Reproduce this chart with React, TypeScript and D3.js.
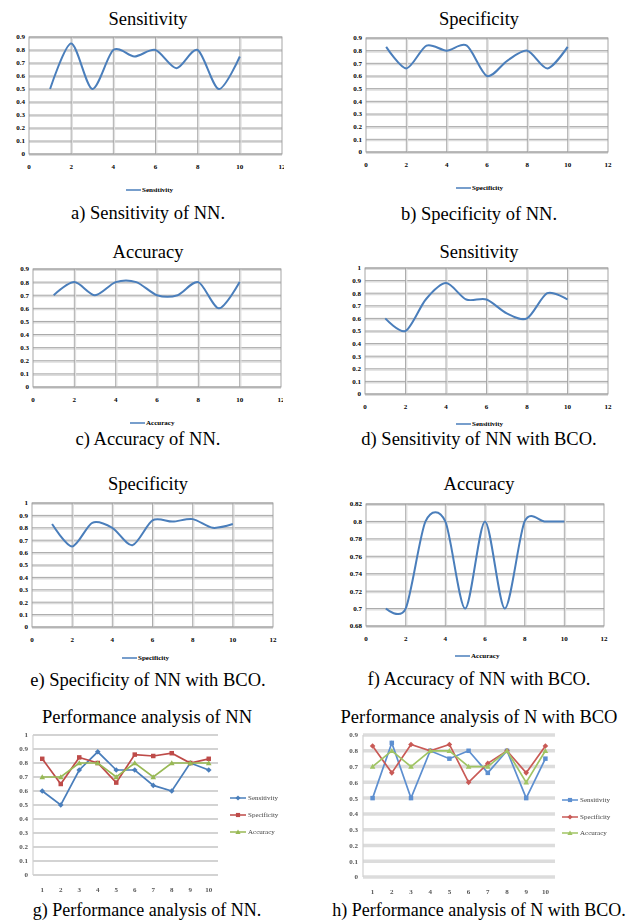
import * as d3 from "d3";

// run index 1..10
const runs = [1, 2, 3, 4, 5, 6, 7, 8, 9, 10];
const runLabels = ["1", "2", "3", "4", "5", "6", "7", "8", "9", "10"];

// NN
const nnSensitivity = [0.5, 0.85, 0.5, 0.8, 0.75, 0.8, 0.66, 0.8, 0.5, 0.75];
const nnSpecificity = [0.83, 0.66, 0.84, 0.8, 0.84, 0.6, 0.72, 0.8, 0.66, 0.83];
const nnAccuracy = [0.7, 0.8, 0.7, 0.8, 0.8, 0.7, 0.7, 0.8, 0.6, 0.8];

// NN with BCO
const bcoSensitivity = [0.6, 0.5, 0.75, 0.88, 0.75, 0.75, 0.64, 0.6, 0.8, 0.75];
const bcoSpecificity = [0.83, 0.65, 0.84, 0.8, 0.66, 0.86, 0.85, 0.87, 0.8, 0.83];
const bcoAccuracy = [0.7, 0.7, 0.8, 0.8, 0.7, 0.8, 0.7, 0.8, 0.8, 0.8];

const xTicks = [0, 2, 4, 6, 8, 10, 12];
const ticks09 = [0, 0.1, 0.2, 0.3, 0.4, 0.5, 0.6, 0.7, 0.8, 0.9];
const ticks10 = [0, 0.1, 0.2, 0.3, 0.4, 0.5, 0.6, 0.7, 0.8, 0.9, 1];
const ticksAcc = [0.68, 0.7, 0.72, 0.74, 0.76, 0.78, 0.8, 0.82];

const BLUE = "#4a7ebb";
const RED = "#be4b48";
const GREEN = "#98b954";
const SERIF = "Liberation Serif, Tinos, Times New Roman, DejaVu Serif, serif";

const fmt = (v: number) => String(+v.toFixed(2));

type Box = { x0: number; x1: number; y0: number; y1: number };

function T(props: any) {
  const { size, bold, children, ...rest } = props;
  return (
    <text {...rest} style={{ fontFamily: SERIF, fontSize: size, fontWeight: bold ? "bold" : "normal" }}>
      {children}
    </text>
  );
}

function SmoothPanel(props: {
  id: string;
  box: Box;
  title: string;
  titleX: number;
  titleY: number;
  yTicks: number[];
  values: number[];
  name: string;
  legendX: number;
  legendY: number;
  caption: string;
  captionY: number;
  clipX?: number;
}) {
  const { box, yTicks, values } = props;
  const x = d3.scaleLinear().domain([0, 12]).range([box.x0, box.x1]);
  const y = d3
    .scaleLinear()
    .domain([yTicks[0], yTicks[yTicks.length - 1]])
    .range([box.y1, box.y0]);
  const line = d3
    .line<number>()
    .x((_, i) => x(runs[i]))
    .y((d) => y(d))
    .curve(d3.curveCardinal.tension(0.15));
  return (
    <g>
      <T x={props.titleX} y={props.titleY} dy="0.35em" textAnchor="middle" size={18.5}>
        {props.title}
      </T>
      {yTicks.map((t) => (
        <g key={"h" + t}>
          <line x1={box.x0} x2={box.x1} y1={y(t) + 1.3} y2={y(t) + 1.3} stroke="#dcdcdc" strokeWidth={1.4} />
          <line x1={box.x0} x2={box.x1} y1={y(t)} y2={y(t)} stroke="#9c9c9c" strokeWidth={0.9} />
          <T x={box.x0 - 4} y={y(t)} dy="0.35em" textAnchor="end" bold size={7}>
            {fmt(t)}
          </T>
        </g>
      ))}
      {xTicks.slice(1, -1).map((t) => (
        <g key={"v" + t}>
          <line x1={x(t) + 1.2} x2={x(t) + 1.2} y1={box.y0} y2={box.y1} stroke="#e0e0e0" strokeWidth={1.2} />
          <line x1={x(t)} x2={x(t)} y1={box.y0} y2={box.y1} stroke="#a4a4a4" strokeWidth={0.9} />
        </g>
      ))}
      <rect x={box.x0} y={box.y0} width={box.x1 - box.x0} height={box.y1 - box.y0} fill="none" stroke="#9c9c9c" strokeWidth={0.9} />
      {props.clipX !== undefined && (
        <clipPath id={props.id + "-clip"}>
          <rect x={0} y={box.y1} width={props.clipX} height={30} />
        </clipPath>
      )}
      <g clipPath={props.clipX !== undefined ? `url(#${props.id}-clip)` : undefined}>
        {xTicks.map((t) => (
          <T key={"x" + t} x={x(t)} y={box.y1 + 13} dy="0.35em" textAnchor="middle" bold size={7}>
            {t}
          </T>
        ))}
      </g>
      <path d={line(values) || ""} fill="none" stroke={BLUE} strokeWidth={2} />
      <line x1={props.legendX} x2={props.legendX + 15} y1={props.legendY} y2={props.legendY} stroke={BLUE} strokeWidth={1.5} />
      <T x={props.legendX + 16} y={props.legendY} dy="0.35em" bold size={7}>
        {props.name}
      </T>
      <T x={props.titleX} y={props.captionY} dy="0.35em" textAnchor="middle" size={18.5}>
        {props.caption}
      </T>
    </g>
  );
}

function Marker(props: { kind: string; cx: number; cy: number; color: string; s: number }) {
  const { cx, cy, s, color } = props;
  if (props.kind === "diamond")
    return <path d={`M${cx},${cy - s}L${cx + s},${cy}L${cx},${cy + s}L${cx - s},${cy}Z`} fill={color} />;
  if (props.kind === "square") return <rect x={cx - s * 0.8} y={cy - s * 0.8} width={s * 1.6} height={s * 1.6} fill={color} />;
  return <path d={`M${cx},${cy - s}L${cx + s},${cy + s * 0.8}L${cx - s},${cy + s * 0.8}Z`} fill={color} />;
}

function ComboPanel(props: {
  id: string;
  box: Box;
  title: string;
  centerX: number;
  yTicks: number[];
  labels: string[];
  series: { name: string; values: number[]; color: string; marker: string }[];
  legendX: number;
  legendY: number[];
  caption: string;
  bands: boolean;
  blur: number;
}) {
  const { box, yTicks } = props;
  const x = d3.scalePoint<string>().domain(props.labels).range([box.x0, box.x1]).padding(0.5);
  const y = d3
    .scaleLinear()
    .domain([yTicks[0], yTicks[yTicks.length - 1]])
    .range([box.y1, box.y0]);
  const line = d3
    .line<number>()
    .x((_, i) => x(props.labels[i]) as number)
    .y((d) => y(d));
  return (
    <g>
      <T x={props.centerX} y={717} dy="0.35em" textAnchor="middle" size={18.5}>
        {props.title}
      </T>
      <defs>
        <filter id={props.id + "-blur"} x="-5%" y="-5%" width="110%" height="110%">
          <feGaussianBlur stdDeviation={props.blur} />
        </filter>
      </defs>
      <g filter={`url(#${props.id}-blur)`}>
        {yTicks.map((t) => (
          <g key={"h" + t}>
            <line
              x1={box.x0}
              x2={box.x1}
              y1={y(t)}
              y2={y(t)}
              stroke={props.bands ? "#dcdcdc" : "#c4c4c4"}
              strokeWidth={props.bands ? 3.5 : 1.3}
            />
            <T x={box.x0 - 5} y={y(t)} dy="0.35em" textAnchor="end" bold size={7} fill="#555">
              {fmt(t)}
            </T>
          </g>
        ))}
        <line x1={box.x0} x2={box.x0} y1={box.y0} y2={box.y1} stroke="#d0d0d0" strokeWidth={1.2} />
        {props.labels.map((l) => (
          <T key={"x" + l} x={x(l)} y={box.y1 + 15} dy="0.35em" textAnchor="middle" bold size={7} fill="#555">
            {l}
          </T>
        ))}
        {props.series.map((s) => (
          <g key={s.name}>
            <path d={line(s.values) || ""} fill="none" stroke={s.color} strokeWidth={1.7} />
            {s.values.map((v, i) => (
              <Marker key={i} kind={s.marker} cx={x(props.labels[i]) as number} cy={y(v)} color={s.color} s={2.8} />
            ))}
          </g>
        ))}
        {props.series.map((s, i) => (
          <g key={"lg" + s.name}>
            <line x1={props.legendX} x2={props.legendX + 16} y1={props.legendY[i]} y2={props.legendY[i]} stroke={s.color} strokeWidth={1.5} />
            <Marker kind={s.marker} cx={props.legendX + 8} cy={props.legendY[i]} color={s.color} s={2.6} />
            <T x={props.legendX + 18} y={props.legendY[i]} dy="0.35em" size={7} fill="#444">
              {s.name}
            </T>
          </g>
        ))}
      </g>
      <T x={props.centerX} y={910} dy="0.35em" textAnchor="middle" size={18}>
        {props.caption}
      </T>
    </g>
  );
}

export default function App() {
  return (
    <div style={{ position: "absolute", left: 0, top: 0, background: "#fff" }}>
      <svg width={633} height={921} style={{ display: "block" }}>
        <rect width={633} height={921} fill="#fff" />
        <SmoothPanel id="a" box={{ x0: 29, x1: 282, y0: 37, y1: 154 }} title="Sensitivity" titleX={148} titleY={19}
          yTicks={ticks09} values={nnSensitivity} name="Sensitivity" legendX={126} legendY={190}
          caption="a) Sensitivity of NN." captionY={213} clipX={284} />
        <SmoothPanel id="b" box={{ x0: 366, x1: 608, y0: 38, y1: 152 }} title="Specificity" titleX={479} titleY={19}
          yTicks={ticks09} values={nnSpecificity} name="Specificity" legendX={456} legendY={188}
          caption="b) Specificity of NN." captionY={214} />
        <SmoothPanel id="c" box={{ x0: 33, x1: 281, y0: 269, y1: 387 }} title="Accuracy" titleX={148} titleY={252}
          yTicks={ticks09} values={nnAccuracy} name="Accuracy" legendX={130} legendY={423}
          caption="c) Accuracy of NN." captionY={439} clipX={283} />
        <SmoothPanel id="d" box={{ x0: 365, x1: 608, y0: 268, y1: 394 }} title="Sensitivity" titleX={479} titleY={252}
          yTicks={ticks10} values={bcoSensitivity} name="Sensitivity" legendX={456} legendY={424}
          caption="d) Sensitivity of NN with BCO." captionY={439} />
        <SmoothPanel id="e" box={{ x0: 32, x1: 273, y0: 503, y1: 627 }} title="Specificity" titleX={148} titleY={484}
          yTicks={ticks10} values={bcoSpecificity} name="Specificity" legendX={122} legendY={658}
          caption="e) Specificity of NN with BCO." captionY={680} />
        <SmoothPanel id="f" box={{ x0: 366, x1: 604, y0: 504, y1: 626 }} title="Accuracy" titleX={479} titleY={484}
          yTicks={ticksAcc} values={bcoAccuracy} name="Accuracy" legendX={455} legendY={656}
          caption="f) Accuracy of NN with BCO." captionY={679} />
        <ComboPanel id="g" box={{ x0: 33, x1: 218, y0: 735, y1: 875 }} title="Performance analysis of NN" centerX={147}
          yTicks={ticks10} labels={runLabels}
          series={[
            { name: "Sensitivity", values: bcoSensitivity, color: BLUE, marker: "diamond" },
            { name: "Specificity", values: bcoSpecificity, color: RED, marker: "square" },
            { name: "Accuracy", values: bcoAccuracy, color: GREEN, marker: "triangle" },
          ]}
          legendX={230} legendY={[798, 815, 832]} caption="g)  Performance analysis of NN." bands={false} blur={0.7} />
        <ComboPanel id="h" box={{ x0: 363, x1: 555, y0: 735, y1: 877 }} title="Performance analysis of N with BCO" centerX={479}
          yTicks={ticks09} labels={runLabels}
          series={[
            { name: "Sensitivity", values: nnSensitivity, color: "#5d8fd0", marker: "square" },
            { name: "Specificity", values: nnSpecificity, color: "#c95a56", marker: "diamond" },
            { name: "Accuracy", values: nnAccuracy, color: "#a0c464", marker: "triangle" },
          ]}
          legendX={562} legendY={[800, 817, 833]} caption="h) Performance analysis of N with BCO." bands={true} blur={0.6} />
      </svg>
    </div>
  );
}
